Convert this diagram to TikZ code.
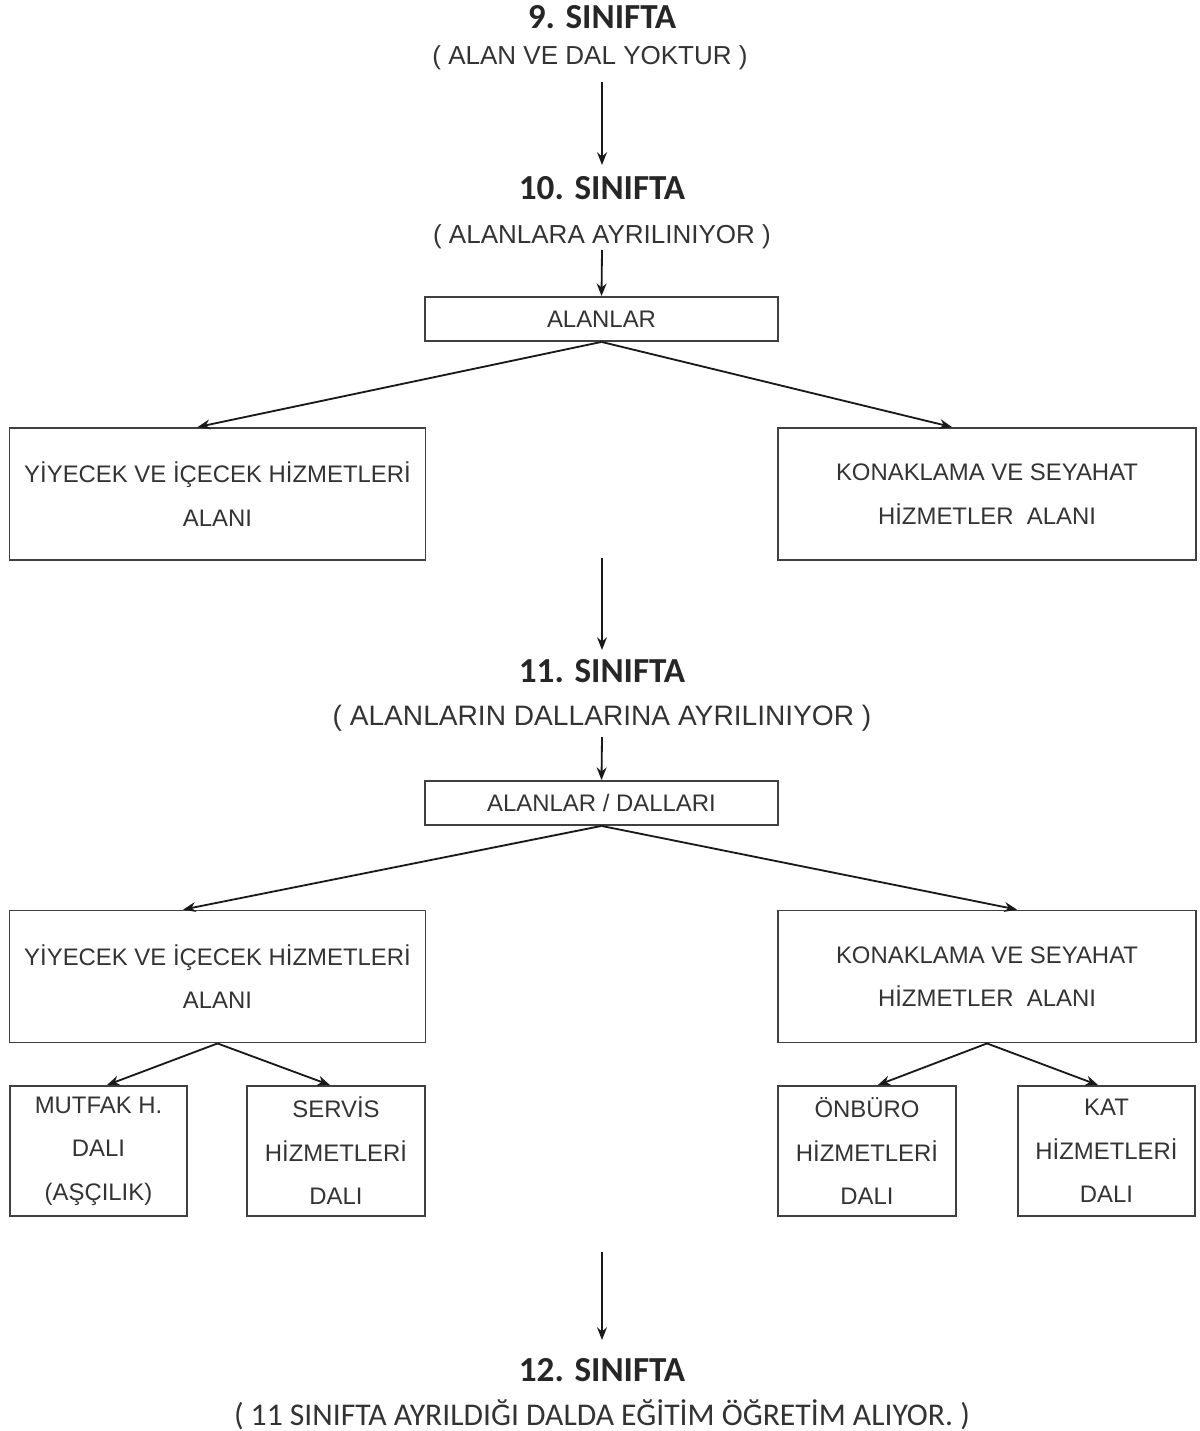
\documentclass[tikz,border=0pt]{standalone}
\usepackage{fontspec}
\setmainfont{Liberation Sans}
\newfontfamily\headfont{Carlito}
\usetikzlibrary{positioning,calc,arrows.meta}

\tikzset{
  txt/.style={text=black!80,font=\fontsize{17}{31}\selectfont,align=center,inner sep=0pt},
  paren/.style={txt,font=\fontsize{18.5}{22}\selectfont},
  head/.style={text=black!85,font=\headfont\bfseries\fontsize{25}{28}\selectfont,inner sep=0pt},
  topbox/.style={txt,draw=black!75,line width=1.3pt,minimum width=8.83cm,minimum height=1.1cm},
  alanbox/.style={txt,draw=black!75,line width=1.3pt,minimum width=10.4cm,minimum height=3.3cm},
  dalbox/.style={txt,draw=black!75,line width=1.3pt,minimum width=4.43cm,minimum height=3.25cm},
  arr/.style={-{Stealth[length=9pt,width=7pt]},line width=1.3pt,black!90}
}

\begin{document}
\begin{tikzpicture}[x=0.025cm,y=-0.025cm]
\useasboundingbox (0,0) rectangle (1200,1431);
% 9. sinif
\node[head] (s9) at (602,17) {9. SINIFTA};
\node[paren] (s9a) at (590,58) {( ALAN VE DAL YOKTUR )};
\coordinate (c9) at (602,82);
% 10. sinif
\node[head] (s10) at (602,188) {10. SINIFTA};
\node[paren] (s10a) at (602,237) {( ALANLARA AYRILINIYOR )};
\coordinate (c10a) at (602,250);
\node[topbox] (al1) at (601.5,319) {ALANLAR};
\node[alanbox] (yi1) at (217.5,494) {YİYECEK VE İÇECEK HİZMETLERİ\\ALANI};
\node[alanbox,minimum width=10.45cm] (ko1) at (987,494) {KONAKLAMA VE SEYAHAT\\HİZMETLER \ ALANI};
\coordinate (c10) at (602,558);
% 11. sinif
\node[head] (s11) at (602,671) {11. SINIFTA};
\node[paren,font=\fontsize{20}{24}\selectfont] (s11a) at (602,718) {( ALANLARIN DALLARINA AYRILINIYOR )};
\coordinate (c11a) at (602,737);
\node[topbox] (al2) at (601.5,803) {ALANLAR / DALLARI};
\node[alanbox] (yi2) at (217.5,976.5) {YİYECEK VE İÇECEK HİZMETLERİ\\ALANI};
\node[alanbox,minimum width=10.45cm] (ko2) at (987,976.5) {KONAKLAMA VE SEYAHAT\\HİZMETLER \ ALANI};
\node[dalbox] (d1) at (98.5,1151) {MUTFAK H.\\DALI\\(AŞÇILIK)};
\node[dalbox] (d2) at (336,1151) {SERVİS\\HİZMETLERİ\\DALI};
\node[dalbox] (d3) at (867,1151) {ÖNBÜRO\\HİZMETLERİ\\DALI};
\node[dalbox] (d4) at (1106.5,1151) {KAT\\HİZMETLERİ\\DALI};
\coordinate (c11) at (602,1252);
% 12. sinif
\node[head] (s12) at (602,1370) {12. SINIFTA};
\node[txt,font=\headfont\fontsize{22.5}{26}\selectfont] (s12a) at (602,1415) {( 11 SINIFTA AYRILDIĞI DALDA EĞİTİM ÖĞRETİM ALIYOR. )};
% oklar
\draw[arr] (c9) -- (602,165);
\draw[arr] (c10a) -- (al1.north);
\draw[arr] (al1.south) -- ([xshift=-0.5cm]yi1.north);
\draw[arr] (al1.south) -- ([xshift=-0.875cm]ko1.north);
\draw[arr] (c10) -- (602,650);
\draw[arr] (c11a) -- (al2.north);
\draw[arr] (al2.south) -- ([xshift=-0.86cm]yi2.north);
\draw[arr] (al2.south) -- ([xshift=0.75cm]ko2.north);
\draw[arr] (yi2.south) -- ([xshift=0.21cm]d1.north);
\draw[arr] (yi2.south) -- ([xshift=-0.15cm]d2.north);
\draw[arr] (ko2.south) -- ([xshift=0.27cm]d3.north);
\draw[arr] (ko2.south) -- ([xshift=-0.21cm]d4.north);
\draw[arr] (c11) -- (602,1340);
\end{tikzpicture}
\end{document}
